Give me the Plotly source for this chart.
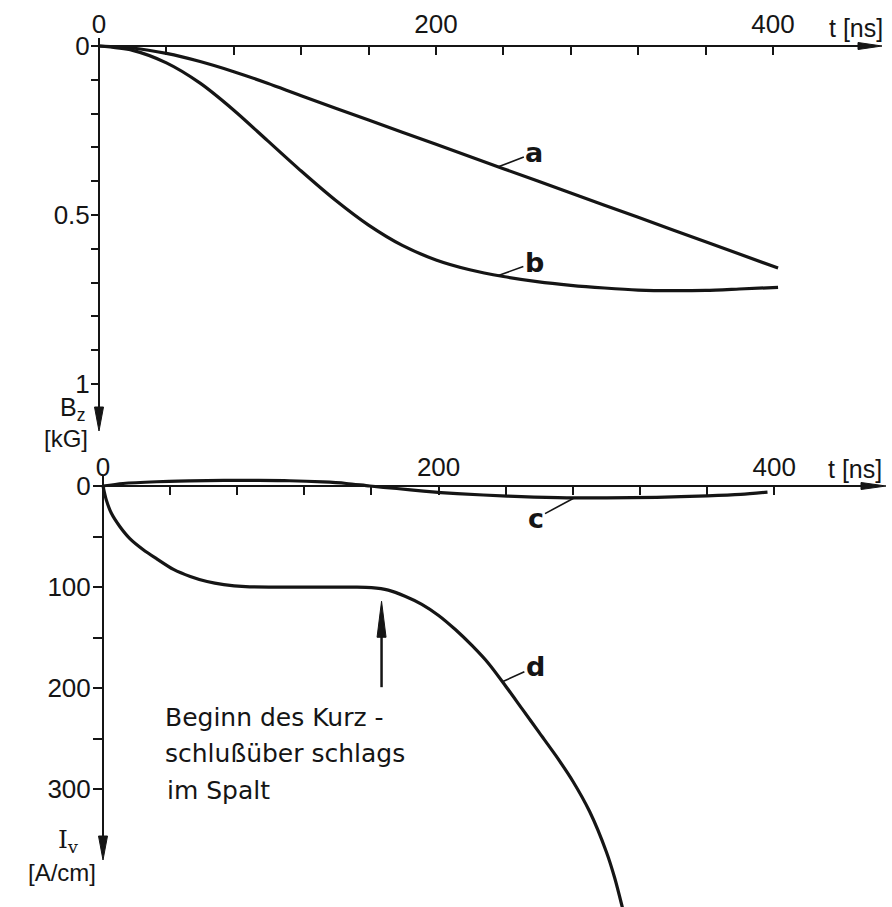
import numpy as np
import plotly.graph_objects as go

# ---------------- data ----------------
# upper panel: axial field B_z [kG] versus time t [ns]
t_a = [0, 20, 40, 60, 80, 100, 120, 160, 200, 240, 280, 320, 360, 403]
bz_a = [0, 0.006, 0.022, 0.046, 0.076, 0.110, 0.147, 0.219, 0.291, 0.363, 0.435, 0.507, 0.579, 0.657]

t_b = [0, 20, 40, 60, 80, 100, 120, 140, 160, 180, 200, 220, 240, 260, 280, 300, 320, 340, 360, 380, 403]
bz_b = [0, 0.013, 0.05, 0.11, 0.19, 0.28, 0.37, 0.455, 0.53, 0.59, 0.633, 0.662, 0.682, 0.697, 0.708,
        0.716, 0.722, 0.724, 0.723, 0.719, 0.714]

# lower panel: current I_v [A/cm] versus time t [ns]
t_c = [0, 12, 32, 52, 72, 92, 111, 131, 145, 159, 175, 191, 211, 241, 271, 300, 330, 360, 380, 396]
iv_c = [0, -2.5, -4.2, -5.0, -5.5, -5.5, -5.2, -4.0, -2.5, 0, 2.5, 5.0, 7.5, 10.0, 11.5, 11.8, 11.2, 9.8, 8.3, 6.0]

t_d = [0, 2, 5, 10, 16, 24, 32, 42, 52, 62, 72, 85, 100, 120, 140, 150, 160, 170, 180, 190, 200, 210,
       220, 230, 240, 250, 260, 270, 280, 290, 300, 305, 310, 313]
iv_d = [0, 14, 27, 40, 52, 63, 72, 82.5, 89.5, 94.5, 97.5, 99.5, 100, 100, 100, 100, 100.5, 103, 109, 117,
        128, 142, 158, 176, 198, 221, 244, 267, 292, 322, 362, 388, 420, 440]

# onset of the short-circuit breakdown in the gap
onset_t = 166
onset_tip = 114
onset_tail = 199

# axis ticks and labels
t_ticks = list(range(0, 401, 40))
t_major = [0, 200, 400]
bz_ticks = [round(0.1 * k, 1) for k in range(11)]
bz_major = [0, 0.5, 1]
bz_major_text = ["0", "0.5", "1"]
iv_ticks = [0, 50, 100, 150, 200, 250, 300]
iv_major = [0, 100, 200, 300]

# ---------------- geometry ----------------
W, H = 892, 907
INK = "#151515"
FONT = "Liberation Sans"


def px(p):
    return p / W


def py(p):
    return 1 - p / H


# upper panel: origin pixel and pixels per unit
A_X0, A_SX, A_Y0, A_SY = 99, 1.685, 46, 338.0
A_LEFT, A_RIGHT, A_TOP, A_BOT = 93, 872, 38, 426
# lower panel
B_X0, B_SX, B_Y0, B_SY = 103, 1.678, 486, 1.011
B_LEFT, B_RIGHT, B_TOP, B_BOT = 96, 868, 470, 907

fig = go.Figure()
line_style = dict(color=INK, width=3.2, shape="spline", smoothing=0.8)
fig.add_trace(go.Scatter(x=t_a, y=bz_a, mode="lines", line=line_style, xaxis="x", yaxis="y",
                         hoverinfo="skip", showlegend=False))
fig.add_trace(go.Scatter(x=t_b, y=bz_b, mode="lines", line=line_style, xaxis="x", yaxis="y",
                         hoverinfo="skip", showlegend=False))
fig.add_trace(go.Scatter(x=t_c, y=iv_c, mode="lines", line=line_style, xaxis="x2", yaxis="y2",
                         hoverinfo="skip", showlegend=False))
fig.add_trace(go.Scatter(x=t_d, y=iv_d, mode="lines", line=line_style, xaxis="x2", yaxis="y2",
                         hoverinfo="skip", showlegend=False))

tickfont = dict(family=FONT, size=26, color=INK)
common = dict(showgrid=False, zeroline=False, automargin=False, tickcolor=INK, tickwidth=2,
              linecolor=INK, linewidth=2, tickfont=tickfont, fixedrange=True)


def minor(vals, side, length):
    return dict(tickvals=vals, ticks=side, ticklen=length, tickwidth=2, tickcolor=INK, showgrid=False)


fig.update_layout(
    width=W, height=H, autosize=False,
    margin=dict(l=0, r=0, t=0, b=0, pad=0),
    paper_bgcolor="white", plot_bgcolor="rgba(0,0,0,0)",
    xaxis=dict(domain=[px(A_LEFT), px(A_RIGHT)],
               range=[(A_LEFT - A_X0) / A_SX, (A_RIGHT - A_X0) / A_SX],
               anchor="free", position=py(A_Y0), side="top", showline=True,
               ticks="inside", ticklen=8, tickvals=t_major, ticktext=[str(v) for v in t_major],
               minor=minor(t_ticks, "inside", 8), ticklabelstandoff=2, **common),
    yaxis=dict(domain=[py(A_BOT), py(A_TOP)],
               range=[(A_BOT - A_Y0) / A_SY, (A_TOP - A_Y0) / A_SY],
               anchor="free", position=px(A_X0), side="left", showline=True,
               ticks="outside", ticklen=7, tickvals=bz_major, ticktext=bz_major_text,
               minor=minor(bz_ticks, "outside", 7), ticklabelstandoff=-4, **common),
    xaxis2=dict(domain=[px(B_LEFT), px(B_RIGHT)],
                range=[(B_LEFT - B_X0) / B_SX, (B_RIGHT - B_X0) / B_SX],
                anchor="free", position=py(B_Y0), side="top", showline=True,
                ticks="inside", ticklen=8, tickvals=t_major, ticktext=[str(v) for v in t_major],
                minor=minor(t_ticks, "inside", 8), ticklabelstandoff=-1, **common),
    yaxis2=dict(domain=[py(B_BOT), py(B_TOP)],
                range=[(B_BOT - B_Y0) / B_SY, (B_TOP - B_Y0) / B_SY],
                anchor="free", position=px(B_X0), side="left", showline=False,
                ticks="outside", ticklen=10, tickvals=iv_major, ticktext=[str(v) for v in iv_major],
                minor=minor(iv_ticks, "outside", 10), ticklabelstandoff=-3, **common),
)

shapes = []


def tri(points):
    d = "M " + " L ".join(f"{x},{y}" for x, y in points) + " Z"
    return dict(type="path", path=d, xref="paper", yref="paper", fillcolor=INK,
                line=dict(color=INK, width=1))


# arrow heads on the axes
shapes.append(tri([(px(858), py(A_Y0 - 3.5)), (px(882), py(A_Y0)), (px(858), py(A_Y0 + 3.5))]))
shapes.append(tri([(px(A_X0 - 4.5), py(407)), (px(A_X0), py(431)), (px(A_X0 + 4.5), py(407))]))
shapes.append(tri([(px(861), py(B_Y0 - 3.5)), (px(886), py(B_Y0)), (px(861), py(B_Y0 + 3.5))]))
# lower vertical axis line drawn separately so curve d may run past its arrow
shapes.append(dict(type="line", xref="paper", yref="paper", x0=px(B_X0), x1=px(B_X0),
                   y0=py(476), y1=py(845), line=dict(color=INK, width=2)))
shapes.append(tri([(px(B_X0 - 4.5), py(836)), (px(B_X0), py(860)), (px(B_X0 + 4.5), py(836))]))

# arrow marking the onset of the breakdown
head_len = 36 / B_SY
head_half = 4.5 / B_SX
shapes.append(dict(type="line", xref="x2", yref="y2", x0=onset_t, x1=onset_t,
                   y0=onset_tail, y1=onset_tip + head_len * 0.8, line=dict(color=INK, width=2.5)))
shapes.append(dict(type="path", xref="x2", yref="y2", fillcolor=INK, line=dict(color=INK, width=1),
                   path=f"M {onset_t - head_half},{onset_tip + head_len} L {onset_t},{onset_tip} "
                        f"L {onset_t + head_half},{onset_tip + head_len} Z"))
fig.update_layout(shapes=shapes)

ann = []


def text(x, y, s, size=26, anchor="center", bold=False, family=FONT):
    ann.append(dict(x=px(x), y=py(y), xref="paper", yref="paper", text=f"<b>{s}</b>" if bold else s,
                    showarrow=False, xanchor=anchor, yanchor="middle",
                    font=dict(family=family, size=size, color=INK)))


text(856, 28, "t [ns]", size=25)
text(855, 469, "t [ns]", size=25)
text(72, 409, "B<sub>z</sub>", size=25)
text(66, 438, "[kG]", size=24)
text(68, 841, "I<sub>v</sub>", size=25, family="DejaVu Serif")
text(62, 872, "[A/cm]", size=24)

text(163, 717, "Beginn des Kurz -", size=25, anchor="left", family="DejaVu Sans")
text(163, 753, "schlußüber schlags", size=25, anchor="left", family="DejaVu Sans")
text(165, 790, "im Spalt", size=25, anchor="left", family="DejaVu Sans")


def leader(label, t, tv, vv, xr, yr, dx, dy):
    ann.append(dict(x=t, y=float(np.interp(t, tv, vv)), xref=xr, yref=yr, text=f"<b>{label}</b>",
                    showarrow=True, arrowhead=0, arrowwidth=1.6, arrowcolor=INK, ax=dx, ay=dy,
                    standoff=0, font=dict(family="DejaVu Sans", size=27, color=INK)))


leader("a", 237, t_a, bz_a, "x", "y", 36, -14)
leader("b", 237, t_b, bz_b, "x", "y", 36, -13)
leader("c", 281, t_c, iv_c, "x2", "y2", -39, 21)
leader("d", 238, t_d, iv_d, "x2", "y2", 33, -15)

fig.update_layout(annotations=ann)
fig.write_html("out.html")
